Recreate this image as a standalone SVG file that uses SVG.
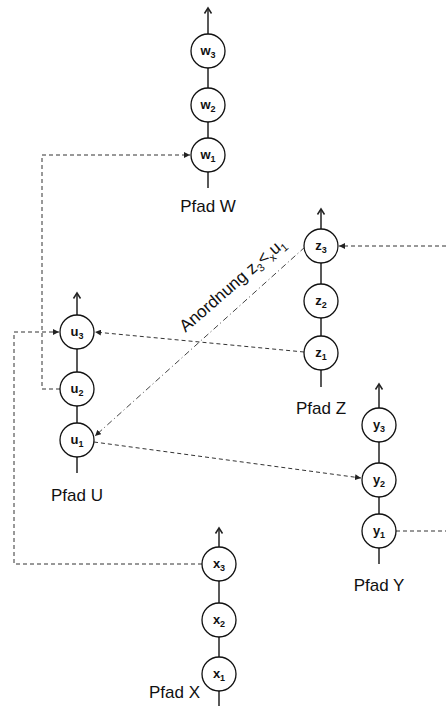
<svg xmlns="http://www.w3.org/2000/svg" width="446" height="706" viewBox="0 0 446 706">
<defs>
<style>
.pl{stroke:#222;stroke-width:1.5;fill:none}
.ah{stroke:#222;stroke-width:1.5;fill:none}
.nd{fill:#fff;stroke:#111;stroke-width:1.3}
.nl{font-family:"Liberation Sans",Arial,sans-serif;font-size:13px;font-weight:bold;fill:#111;text-anchor:middle}
.sub{font-size:9px}
.lbl{font-family:"Liberation Sans",Arial,sans-serif;font-size:17px;fill:#111;text-anchor:middle}
.dash{stroke:#333;stroke-width:1;stroke-dasharray:4 3;fill:none}
.dd{stroke:#444;stroke-width:1;stroke-dasharray:6 3 1 3;fill:none}
</style>
<marker id="ar" markerUnits="userSpaceOnUse" markerWidth="7" markerHeight="6" refX="6" refY="3" orient="auto">
<path d="M0,0 L6,3 L0,6 z" fill="#222"/>
</marker>
</defs>
<rect width="446" height="706" fill="#fff"/>

<g id="connectors">
<polyline class="dash" points="60,389 42,389 42,155 190,155" marker-end="url(#ar)"/>
<polyline class="dash" points="202,564 14,564 14,332 59,332" marker-end="url(#ar)"/>
<line class="dash" x1="304" y1="352" x2="95" y2="332" marker-end="url(#ar)"/>
<line class="dash" x1="94" y1="442" x2="361" y2="478" marker-end="url(#ar)"/>
<line class="dash" x1="446" y1="246" x2="339" y2="246" marker-end="url(#ar)"/>
<line class="dash" x1="396" y1="531" x2="446" y2="531"/>
<line class="dd" x1="305" y1="247" x2="95" y2="436" marker-end="url(#ar)"/>
<text class="lbl" transform="translate(236,289) rotate(-41)">Anordnung z<tspan font-size="11" dy="4">3</tspan><tspan dy="-4">&lt;</tspan><tspan font-size="11" dy="4">x</tspan><tspan dy="-4">u</tspan><tspan font-size="11" dy="4">1</tspan></text>
</g>

<g id="pathW">
<line class="pl" x1="208" y1="188" x2="208" y2="8"/>
<polyline class="ah" points="204.5,13.5 208,8 211.5,13.5"/>
<g id="w3"><circle class="nd" cx="208" cy="51" r="17"/><text class="nl" x="208" y="55">w<tspan class="sub" dy="3">3</tspan></text></g>
<g id="w2"><circle class="nd" cx="208" cy="105" r="17"/><text class="nl" x="208" y="109">w<tspan class="sub" dy="3">2</tspan></text></g>
<g id="w1"><circle class="nd" cx="208" cy="155" r="17"/><text class="nl" x="208" y="159">w<tspan class="sub" dy="3">1</tspan></text></g>
<text class="lbl" x="208" y="212">Pfad W</text>
</g>

<g id="pathZ">
<line class="pl" x1="321" y1="387" x2="321" y2="209"/>
<polyline class="ah" points="317.5,214.5 321,209 324.5,214.5"/>
<g id="z3"><circle class="nd" cx="321" cy="246" r="17"/><text class="nl" x="321" y="250">z<tspan class="sub" dy="3">3</tspan></text></g>
<g id="z2"><circle class="nd" cx="321" cy="301" r="17"/><text class="nl" x="321" y="305">z<tspan class="sub" dy="3">2</tspan></text></g>
<g id="z1"><circle class="nd" cx="321" cy="353" r="17"/><text class="nl" x="321" y="357">z<tspan class="sub" dy="3">1</tspan></text></g>
<text class="lbl" x="321" y="414">Pfad Z</text>
</g>

<g id="pathU">
<line class="pl" x1="77" y1="473" x2="77" y2="293"/>
<polyline class="ah" points="73.5,298.5 77,293 80.5,298.5"/>
<g id="u3"><circle class="nd" cx="77" cy="332" r="17"/><text class="nl" x="77" y="336">u<tspan class="sub" dy="3">3</tspan></text></g>
<g id="u2"><circle class="nd" cx="77" cy="389" r="17"/><text class="nl" x="77" y="393">u<tspan class="sub" dy="3">2</tspan></text></g>
<g id="u1"><circle class="nd" cx="77" cy="440" r="17"/><text class="nl" x="77" y="444">u<tspan class="sub" dy="3">1</tspan></text></g>
<text class="lbl" x="77" y="501">Pfad U</text>
</g>

<g id="pathY">
<line class="pl" x1="379" y1="564" x2="379" y2="384"/>
<polyline class="ah" points="375.5,389.5 379,384 382.5,389.5"/>
<g id="y3"><circle class="nd" cx="379" cy="425" r="17"/><text class="nl" x="379" y="429">y<tspan class="sub" dy="3">3</tspan></text></g>
<g id="y2"><circle class="nd" cx="379" cy="480" r="17"/><text class="nl" x="379" y="484">y<tspan class="sub" dy="3">2</tspan></text></g>
<g id="y1"><circle class="nd" cx="379" cy="531" r="17"/><text class="nl" x="379" y="535">y<tspan class="sub" dy="3">1</tspan></text></g>
<text class="lbl" x="379" y="591">Pfad Y</text>
</g>

<g id="pathX">
<line class="pl" x1="219" y1="706" x2="219" y2="528"/>
<polyline class="ah" points="215.5,533.5 219,528 222.5,533.5"/>
<g id="x3"><circle class="nd" cx="219" cy="564" r="17"/><text class="nl" x="219" y="568">x<tspan class="sub" dy="3">3</tspan></text></g>
<g id="x2"><circle class="nd" cx="219" cy="620" r="17"/><text class="nl" x="219" y="624">x<tspan class="sub" dy="3">2</tspan></text></g>
<g id="x1"><circle class="nd" cx="219" cy="674" r="17"/><text class="nl" x="219" y="678">x<tspan class="sub" dy="3">1</tspan></text></g>
<text class="lbl" x="200" y="698" style="text-anchor:end">Pfad X</text>
</g>
</svg>
